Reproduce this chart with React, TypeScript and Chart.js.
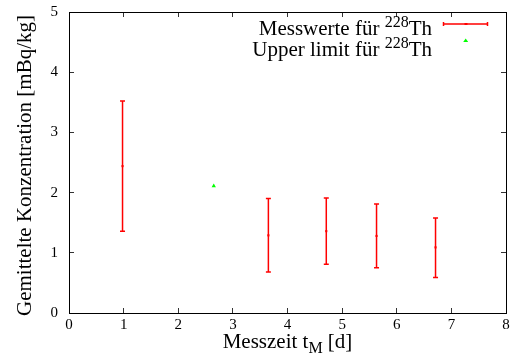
import React, { useEffect, useRef } from "react";
import { Chart, registerables } from "chart.js";

Chart.register(...registerables);

// Measurement times [d] and averaged 228Th concentration [mBq/kg]
const times = [0.98, 3.65, 4.71, 5.63, 6.71];
const values = [2.44, 1.29, 1.36, 1.28, 1.09];
const lowerBounds = [1.36, 0.68, 0.81, 0.75, 0.59];
const upperBounds = [3.52, 1.9, 1.91, 1.81, 1.58];

// Upper limit entry
const limitTimes = [2.65];
const limitValues = [2.11];

const xTicks = [0, 1, 2, 3, 4, 5, 6, 7, 8];
const yTicks = [0, 1, 2, 3, 4, 5];

const SERIF = '"Liberation Serif", "DejaVu Serif", serif';
const RED = "#ff0000";
const GREEN = "#00ff00";

// Vertical error bars with short caps for the measurement series
const errorBarPlugin = {
  id: "errorBars",
  afterDatasetsDraw(chart: any) {
    const ctx = chart.ctx;
    const xs = chart.scales.x;
    const ys = chart.scales.y;
    ctx.save();
    ctx.strokeStyle = RED;
    ctx.lineWidth = 1.5;
    times.forEach((t, i) => {
      const px = xs.getPixelForValue(t);
      const top = ys.getPixelForValue(upperBounds[i]);
      const bot = ys.getPixelForValue(lowerBounds[i]);
      ctx.beginPath();
      ctx.moveTo(px, top);
      ctx.lineTo(px, bot);
      ctx.moveTo(px - 2.5, top);
      ctx.lineTo(px + 2.5, top);
      ctx.moveTo(px - 2.5, bot);
      ctx.lineTo(px + 2.5, bot);
      ctx.stroke();
    });
    ctx.restore();
  },
};

// Tick labels, axis titles and key
const labelPlugin = {
  id: "labels",
  afterDraw(chart: any) {
    const ctx = chart.ctx as CanvasRenderingContext2D;
    const xs = chart.scales.x;
    const ys = chart.scales.y;
    const L = xs.getPixelForValue(0);
    const R = xs.getPixelForValue(8);
    const T = ys.getPixelForValue(5);
    const B = ys.getPixelForValue(0);
    ctx.save();
    ctx.fillStyle = "#000000";
    ctx.font = `15px ${SERIF}`;
    ctx.textAlign = "center";
    ctx.textBaseline = "alphabetic";
    xTicks.forEach((v) => {
      ctx.fillText(String(v), xs.getPixelForValue(v), B + 16);
    });
    ctx.textAlign = "right";
    ctx.textBaseline = "middle";
    yTicks.forEach((v) => {
      ctx.fillText(String(v), L - 11, ys.getPixelForValue(v));
    });

    ctx.textBaseline = "alphabetic";

    // x axis title with subscript
    const cx = (L + R) / 2;
    const big = `21px ${SERIF}`;
    const small = `16px ${SERIF}`;
    const partA = "Messzeit t";
    const partB = "M";
    const partC = " [d]";
    ctx.font = big;
    const wA = ctx.measureText(partA).width;
    const wC = ctx.measureText(partC).width;
    ctx.font = small;
    const wB = ctx.measureText(partB).width;
    const x0 = cx - (wA + wB + wC) / 2;
    const baseX = 348;
    ctx.textAlign = "left";
    ctx.font = big;
    ctx.fillText(partA, x0, baseX);
    ctx.font = small;
    ctx.fillText(partB, x0 + wA, baseX + 5);
    ctx.font = big;
    ctx.fillText(partC, x0 + wA + wB, baseX);

    // y axis title
    ctx.save();
    ctx.translate(31, (T + B) / 2 + 3);
    ctx.rotate(-Math.PI / 2);
    ctx.textAlign = "center";
    ctx.font = big;
    ctx.fillText("Gemittelte Konzentration [mBq/kg]", 0, 0);
    ctx.restore();

    // key
    const keyRight = 432;
    const drawKeyText = (pre: string, base: number) => {
      ctx.font = big;
      const wTh = ctx.measureText("Th").width;
      const wPre = ctx.measureText(pre).width;
      ctx.font = small;
      const wSup = ctx.measureText("228").width;
      const start = keyRight - (wPre + wSup + wTh);
      ctx.textAlign = "left";
      ctx.font = big;
      ctx.fillText(pre, start, base);
      ctx.font = small;
      ctx.fillText("228", start + wPre, base - 8);
      ctx.font = big;
      ctx.fillText("Th", start + wPre + wSup, base);
    };
    drawKeyText("Messwerte für ", 35);
    drawKeyText("Upper limit für ", 56);

    // key samples
    ctx.strokeStyle = RED;
    ctx.lineWidth = 1.5;
    ctx.beginPath();
    ctx.moveTo(443.5, 24);
    ctx.lineTo(487.5, 24);
    ctx.moveTo(443.5, 22);
    ctx.lineTo(443.5, 26);
    ctx.moveTo(487.5, 22);
    ctx.lineTo(487.5, 26);
    ctx.stroke();
    ctx.fillStyle = RED;
    ctx.fillRect(464.5, 23, 3, 2);
    ctx.fillStyle = GREEN;
    ctx.beginPath();
    ctx.moveTo(465.7, 38.5);
    ctx.lineTo(468.2, 42);
    ctx.lineTo(463.2, 42);
    ctx.closePath();
    ctx.fill();
    ctx.restore();
  },
};

// One framed side of the plot: a border line with short ticks pointing inwards
function frameAxis(position: string, min: number, max: number, ticks: number[]) {
  return {
    type: "linear" as const,
    position,
    min,
    max,
    display: true,
    afterBuildTicks: (s: any) => {
      s.ticks = ticks.map((v) => ({ value: v }));
    },
    afterFit: (s: any) => {
      if (s.isHorizontal()) s.height = 0;
      else s.width = 0;
    },
    ticks: { display: false },
    grid: {
      display: true,
      drawOnChartArea: false,
      drawTicks: true,
      tickLength: -5,
      tickColor: "#333333",
      tickWidth: 1,
    },
    border: { display: true, color: "#000000", width: 1 },
  };
}

export default function App() {
  const ref = useRef<HTMLCanvasElement>(null);

  useEffect(() => {
    document.body.style.margin = "0";
    const canvas = ref.current;
    if (!canvas) return;
    const chart = new Chart(canvas, {
      type: "scatter",
      data: {
        datasets: [
          {
            label: "Messwerte",
            data: times.map((t, i) => ({ x: t, y: values[i] })),
            backgroundColor: RED,
            borderColor: RED,
            pointStyle: "rect",
            pointRadius: 1.5,
            borderWidth: 0,
          },
          {
            label: "Upper limit",
            data: limitTimes.map((t, i) => ({ x: t, y: limitValues[i] })),
            backgroundColor: GREEN,
            borderColor: GREEN,
            pointStyle: "triangle",
            pointRadius: 2.5,
            borderWidth: 0,
          },
        ],
      },
      options: {
        responsive: false,
        animation: false,
        layout: { padding: { top: 12, right: 4, left: 69, bottom: 51 } },
        plugins: {
          legend: { display: false },
          tooltip: { enabled: false },
        },
        scales: {
          x: frameAxis("bottom", 0, 8, xTicks),
          x2: frameAxis("top", 0, 8, xTicks),
          y: frameAxis("left", 0, 5, yTicks),
          y2: frameAxis("right", 0, 5, yTicks),
        } as any,
      },
      plugins: [errorBarPlugin, labelPlugin],
    });
    return () => chart.destroy();
  }, []);

  return (
    <div style={{ width: 510, height: 364 }}>
      <canvas ref={ref} width={510} height={364} />
    </div>
  );
}
